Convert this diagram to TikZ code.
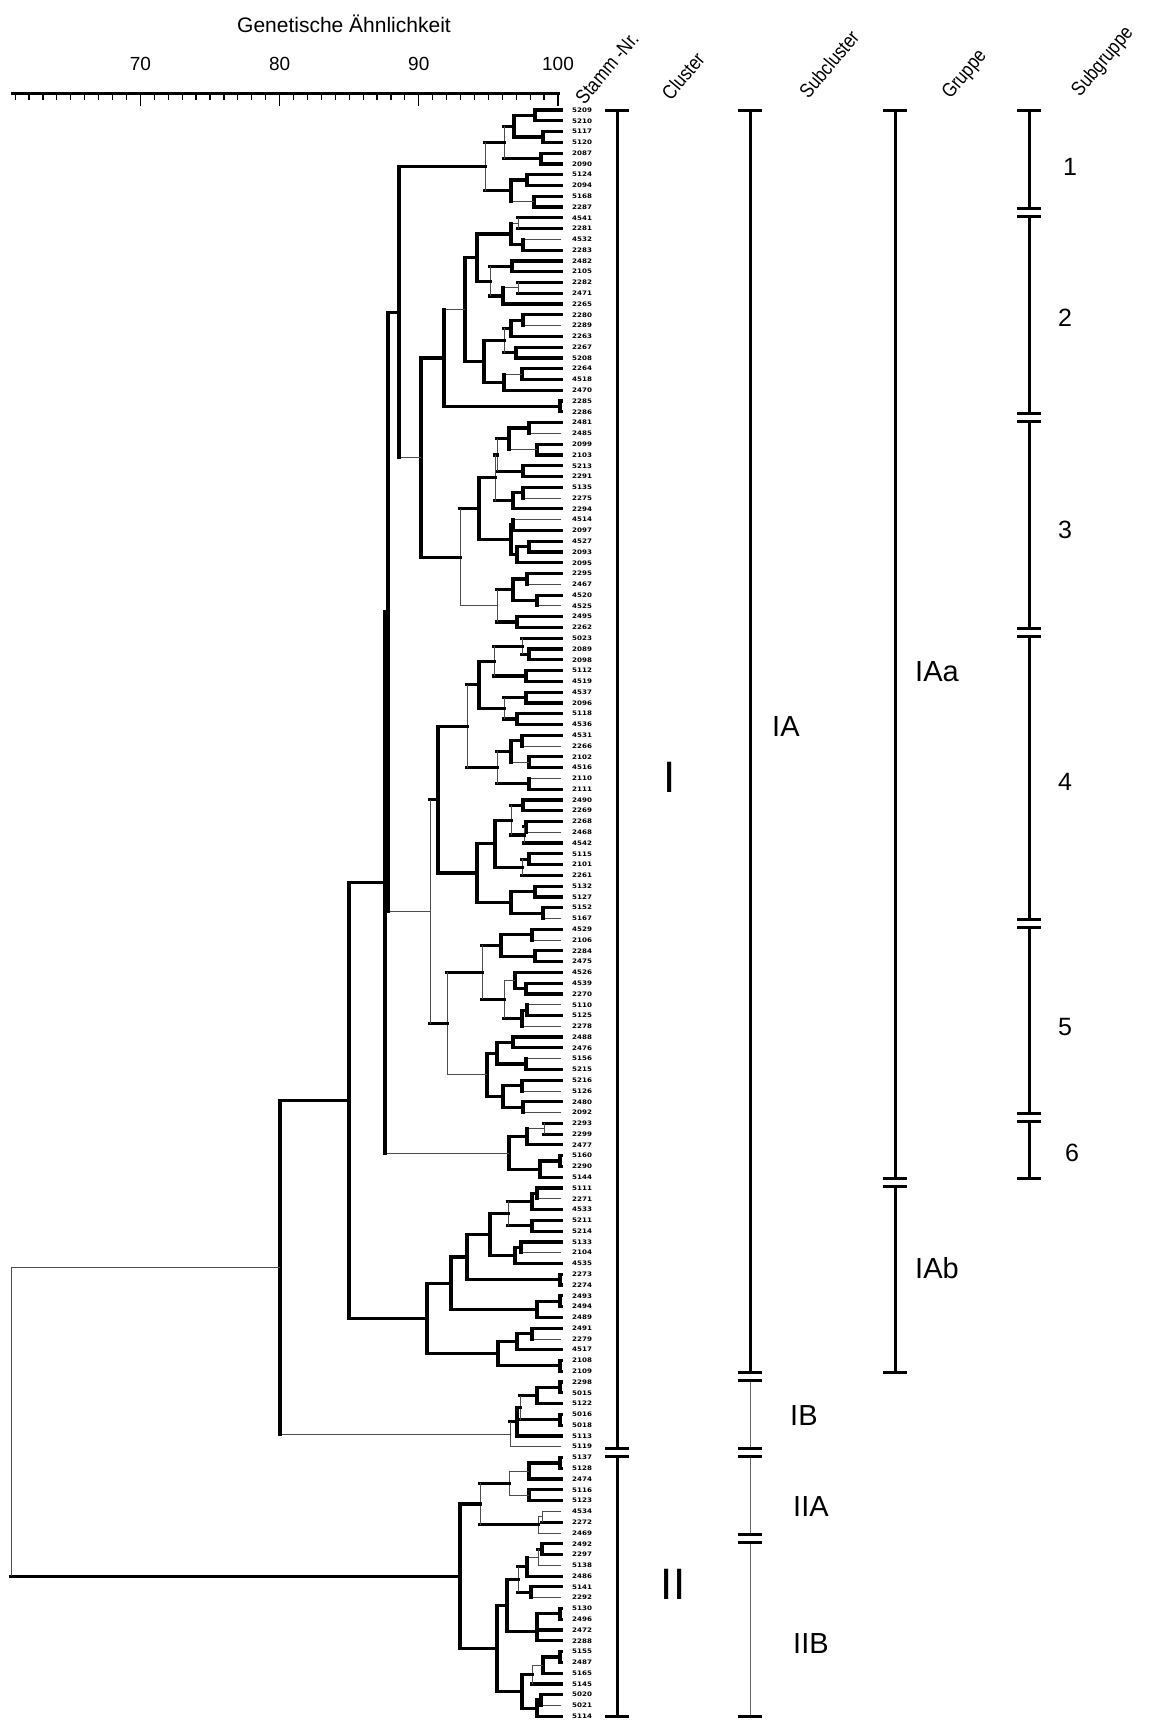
\documentclass[tikz,border=0pt]{standalone}
\usepackage{fontspec}
\setmainfont{Liberation Sans}
\newfontfamily\leaffont[FakeStretch=1.15]{DejaVu Sans}
\newfontfamily\headfont[FakeStretch=0.85]{Liberation Sans}
\usetikzlibrary{calc}

% one clade: name, x, vertical style, child 1, its style, child 2, its style
\newcommand{\clade}[7]{%
  \coordinate (jm) at ($(#4)!.5!(#6)$);
  \coordinate (jx) at (#2,0);
  \coordinate (#1) at (jx |- jm);
  \draw[#5] (#4) -- (#4 -| #1);
  \draw[#7] (#6) -- (#6 -| #1);
  \draw[#3] (#4 -| #1) -- (#6 -| #1);}

\begin{document}
\begin{tikzpicture}[
    x=1pt, y=-1pt,
    tk/.style={line width=3.2pt, line cap=rect},
    tn/.style={line width=0.8pt, black!70},
    leaf/.style={anchor=west, inner sep=0pt, font=\leaffont\bfseries\fontsize{6.2}{6.2}\selectfont},
    colk/.style={line width=3pt},
    coln/.style={line width=1pt, black!60},
    barcap/.style={line width=3pt},
    tick/.style={line width=1.2pt},
    head/.style={rotate=50, inner sep=0pt, font=\headfont\fontsize{20}{20}\selectfont},
    big/.style={inner sep=0pt, font=\fontsize{44}{44}\selectfont},
    mid/.style={anchor=west, inner sep=0pt, font=\fontsize{29}{29}\selectfont},
    num/.style={anchor=west, inner sep=0pt, font=\fontsize{25}{25}\selectfont}
]
\useasboundingbox (0,0) rectangle (1153,1722);

% scale
\node[font=\fontsize{21}{21}\selectfont] (title) at (344,24) {Genetische Ähnlichkeit};
\draw[line width=3pt] (11,93) -- (560,93);
\foreach \s in {61,...,100}
  \draw[tick] ({558-(100-\s)*13.92},93) -- ++(0,7);
\foreach \s in {70,80,90,100} {
  \draw[tick] ({558-(100-\s)*13.92},93) -- ++(0,13);
  \node[font=\fontsize{19}{19}\selectfont] (v\s) at ({558-(100-\s)*13.92},64) {\s};
}

% column heads
\node[head] (hstamm) at (607,68) {Stamm -Nr.};
\node[head] (hcluster) at (683,76) {Cluster};
\node[head] (hsub) at (829,64) {Subcluster};
\node[head] (hgruppe) at (965,75) {Gruppe};
\node[head] (hsubgr) at (1103,62) {Subgruppe};

% strains
\foreach \lab [count=\i] in {5209,5210,5117,5120,2087,2090,5124,2094,5168,2287,
    4541,2281,4532,2283,2482,2105,2282,2471,2265,2280,
    2289,2263,2267,5208,2264,4518,2470,2285,2286,2481,
    2485,2099,2103,5213,2291,5135,2275,2294,4514,2097,
    4527,2093,2095,2295,2467,4520,4525,2495,2262,5023,
    2089,2098,5112,4519,4537,2096,5118,4536,4531,2266,
    2102,4516,2110,2111,2490,2269,2268,2468,4542,5115,
    2101,2261,5132,5127,5152,5167,4529,2106,2284,2475,
    4526,4539,2270,5110,5125,2278,2488,2476,5156,5215,
    5216,5126,2480,2092,2293,2299,2477,5160,2290,5144,
    5111,2271,4533,5211,5214,5133,2104,4535,2273,2274,
    2493,2494,2489,2491,2279,4517,2108,2109,2298,5015,
    5122,5016,5018,5113,5119,5137,5128,2474,5116,5123,
    4534,2272,2469,2492,2297,5138,2486,5141,2292,5130,
    2496,2472,2288,5155,2487,5165,5145,5020,5021,5114} {
  \coordinate (s\lab) at (561,{110+(\i-1)*10.78});
  \node[leaf] (t\lab) at (572,{110+(\i-1)*10.78}) {\lab};
}

% subgroup 1
\clade{a1}{535}{tk}{s5209}{tk}{s5210}{tk}
\clade{a2}{543}{tk}{s5117}{tk}{s5120}{tk}
\clade{a3}{514}{tk}{a1}{tk}{a2}{tk}
\clade{a4}{541}{tk}{s2087}{tk}{s2090}{tk}
\clade{a5}{504}{tn}{a3}{tk}{a4}{tk}
\clade{a6}{527}{tk}{s5124}{tk}{s2094}{tk}
\clade{a7}{534}{tk}{s5168}{tk}{s2287}{tk}
\clade{a8}{511}{tk}{a6}{tk}{a7}{tn}
\clade{a9}{485}{tn}{a5}{tk}{a8}{tk}
% subgroup 2
\clade{b1}{518}{tn}{s4541}{tk}{s2281}{tk}
\clade{b2}{523}{tk}{s4532}{tn}{s2283}{tk}
\clade{b3}{511}{tk}{b1}{tn}{b2}{tk}
\clade{b4}{512}{tk}{s2482}{tk}{s2105}{tk}
\clade{b5}{518}{tn}{s2282}{tk}{s2471}{tk}
\clade{b6}{503}{tk}{b5}{tn}{s2265}{tk}
\clade{b7}{490}{tn}{b4}{tk}{b6}{tk}
\clade{b8}{477}{tk}{b3}{tk}{b7}{tk}
\clade{b9}{523}{tk}{s2280}{tk}{s2289}{tn}
\clade{b10}{511}{tk}{b9}{tk}{s2263}{tk}
\clade{b11}{516}{tk}{s2267}{tk}{s5208}{tk}
\clade{b12}{504}{tn}{b10}{tk}{b11}{tk}
\clade{b13}{522}{tk}{s2264}{tk}{s4518}{tk}
\clade{b14}{504}{tk}{b13}{tn}{s2470}{tk}
\clade{b15}{484}{tk}{b12}{tk}{b14}{tk}
\clade{b16}{465}{tk}{b8}{tk}{b15}{tk}
\clade{b17}{560}{tk}{s2285}{tk}{s2286}{tk}
\clade{b18}{444}{tk}{b16}{tn}{b17}{tk}
% subgroup 3
\clade{c1}{529}{tk}{s2481}{tk}{s2485}{tn}
\clade{c2}{537}{tk}{s2099}{tk}{s2103}{tk}
\clade{c3}{509}{tk}{c1}{tk}{c2}{tn}
\clade{c4}{523}{tk}{s5213}{tk}{s2291}{tk}
\clade{c5}{497}{tn}{c3}{tk}{c4}{tk}
\clade{c6}{523}{tk}{s5135}{tk}{s2275}{tn}
\clade{c7}{513}{tk}{c6}{tk}{s2294}{tk}
\clade{c8}{495}{tn}{c5}{tk}{c7}{tk}
\clade{c9}{513}{tk}{s4514}{tn}{s2097}{tk}
\clade{c10}{529}{tk}{s4527}{tk}{s2093}{tk}
\clade{c11}{517}{tk}{c10}{tk}{s2095}{tk}
\clade{c12}{511}{tk}{c9}{tk}{c11}{tk}
\clade{c13}{479}{tk}{c8}{tk}{c12}{tk}
\clade{c14}{527}{tk}{s2295}{tk}{s2467}{tn}
\clade{c15}{537}{tk}{s4520}{tk}{s4525}{tn}
\clade{c16}{513}{tk}{c14}{tk}{c15}{tk}
\clade{c17}{517}{tk}{s2495}{tk}{s2262}{tk}
\clade{c18}{497}{tn}{c16}{tk}{c17}{tk}
\clade{c19}{460}{tn}{c13}{tk}{c18}{tn}
\clade{c20}{421}{tk}{b18}{tk}{c19}{tk}
\clade{c21}{399}{tk}{a9}{tk}{c20}{tn}
% subgroups 4 and 5
\clade{d1}{529}{tk}{s2089}{tk}{s2098}{tk}
\clade{d2}{522}{tn}{s5023}{tk}{d1}{tk}
\clade{d3}{526}{tk}{s5112}{tk}{s4519}{tk}
\clade{d4}{494}{tn}{d2}{tk}{d3}{tk}
\clade{d5}{526}{tk}{s4537}{tk}{s2096}{tk}
\clade{d6}{517}{tk}{s5118}{tk}{s4536}{tk}
\clade{d7}{504}{tn}{d5}{tk}{d6}{tk}
\clade{d8}{479}{tk}{d4}{tk}{d7}{tk}
\clade{d9}{522}{tk}{s4531}{tk}{s2266}{tn}
\clade{d10}{529}{tk}{s2102}{tk}{s4516}{tk}
\clade{d11}{511}{tk}{d9}{tk}{d10}{tn}
\clade{d12}{529}{tk}{s2110}{tn}{s2111}{tk}
\clade{d13}{497}{tn}{d11}{tk}{d12}{tk}
\clade{d14}{467}{tn}{d8}{tk}{d13}{tk}
\clade{d15}{523}{tk}{s2490}{tk}{s2269}{tk}
\clade{d16}{526}{tk}{s2268}{tk}{s2468}{tn}
\clade{d17}{524}{tn}{d16}{tk}{s4542}{tk}
\clade{d18}{511}{tn}{d15}{tk}{d17}{tk}
\clade{d19}{529}{tk}{s5115}{tk}{s2101}{tk}
\clade{d20}{522}{tn}{d19}{tk}{s2261}{tk}
\clade{d21}{495}{tk}{d18}{tk}{d20}{tk}
\clade{d22}{535}{tk}{s5132}{tk}{s5127}{tk}
\clade{d23}{543}{tk}{s5152}{tk}{s5167}{tn}
\clade{d24}{511}{tk}{d22}{tk}{d23}{tk}
\clade{d25}{477}{tk}{d21}{tk}{d24}{tk}
\clade{d26}{438}{tk}{d14}{tk}{d25}{tk}
\clade{d27}{532}{tk}{s4529}{tk}{s2106}{tn}
\clade{d28}{535}{tk}{s2284}{tk}{s2475}{tk}
\clade{d29}{501}{tk}{d27}{tk}{d28}{tk}
\clade{d30}{526}{tk}{s4539}{tk}{s2270}{tk}
\clade{d31}{515}{tk}{s4526}{tk}{d30}{tk}
\clade{d32}{527}{tk}{s5110}{tn}{s5125}{tk}
\clade{d33}{522}{tk}{d32}{tk}{s2278}{tn}
\clade{d34}{504}{tn}{d31}{tn}{d33}{tk}
\clade{d35}{482}{tn}{d29}{tk}{d34}{tk}
\clade{d36}{513}{tk}{s2488}{tk}{s2476}{tk}
\clade{d37}{526}{tk}{s5156}{tn}{s5215}{tk}
\clade{d38}{497}{tk}{d36}{tk}{d37}{tk}
\clade{d39}{522}{tk}{s5216}{tk}{s5126}{tn}
\clade{d40}{523}{tk}{s2480}{tk}{s2092}{tn}
\clade{d41}{503}{tk}{d39}{tk}{d40}{tk}
\clade{d42}{487}{tk}{d38}{tk}{d41}{tk}
\clade{d43}{447}{tn}{d35}{tk}{d42}{tn}
\clade{d44}{430}{tn}{d26}{tk}{d43}{tk}
\clade{p25}{388}{tk}{c21}{tk}{d44}{tn}
% subgroup 6
\clade{e1}{544}{tn}{s2293}{tk}{s2299}{tk}
\clade{e2}{527}{tk}{e1}{tn}{s2477}{tk}
\clade{e3}{560}{tk}{s5160}{tk}{s2290}{tk}
\clade{e4}{540}{tk}{e3}{tk}{s5144}{tk}
\clade{e5}{509}{tk}{e2}{tk}{e4}{tk}
\clade{p15}{385}{tk}{p25}{tk}{e5}{tn}
% IAb
\clade{f1}{537}{tk}{s5111}{tk}{s2271}{tn}
\clade{f2}{532}{tk}{f1}{tk}{s4533}{tk}
\clade{f3}{532}{tk}{s5211}{tk}{s5214}{tk}
\clade{f4}{508}{tn}{f2}{tk}{f3}{tk}
\clade{f5}{521}{tk}{s5133}{tk}{s2104}{tn}
\clade{f6}{515}{tk}{f5}{tk}{s4535}{tk}
\clade{f7}{490}{tk}{f4}{tk}{f6}{tk}
\clade{f8}{560}{tk}{s2273}{tk}{s2274}{tk}
\clade{f9}{467}{tk}{f7}{tk}{f8}{tk}
\clade{f10}{560}{tk}{s2493}{tk}{s2494}{tk}
\clade{f11}{537}{tk}{f10}{tk}{s2489}{tk}
\clade{f12}{451}{tk}{f9}{tk}{f11}{tk}
\clade{f13}{532}{tk}{s2491}{tk}{s2279}{tn}
\clade{f14}{517}{tk}{f13}{tk}{s4517}{tk}
\clade{f15}{560}{tk}{s2108}{tk}{s2109}{tk}
\clade{f16}{498}{tk}{f14}{tk}{f15}{tk}
\clade{f17}{427}{tk}{f12}{tk}{f16}{tk}
\clade{ia}{349}{tk}{p15}{tk}{f17}{tk}
% IB
\clade{g1}{560}{tk}{s2298}{tk}{s5015}{tk}
\clade{g2}{537}{tk}{g1}{tk}{s5122}{tk}
\clade{g3}{560}{tk}{s5016}{tk}{s5018}{tk}
\clade{g4}{520}{tn}{g2}{tk}{g3}{tk}
\clade{g5}{517}{tk}{g4}{tk}{s5113}{tk}
\clade{g6}{510}{tn}{g5}{tk}{s5119}{tn}
\clade{ci}{280}{tk}{ia}{tk}{g6}{tn}
% IIA
\clade{h1}{560}{tk}{s5137}{tk}{s5128}{tk}
\clade{h2}{529}{tk}{h1}{tk}{s2474}{tk}
\clade{h3}{529}{tk}{s5116}{tk}{s5123}{tk}
\clade{h4}{509}{tn}{h2}{tn}{h3}{tn}
\clade{h5}{542}{tn}{s4534}{tn}{s2272}{tk}
\clade{h6}{538}{tn}{h5}{tn}{s2469}{tn}
\clade{h7}{480}{tn}{h4}{tk}{h6}{tk}
% IIB
\clade{i1}{542}{tk}{s2492}{tk}{s2297}{tk}
\clade{i2}{538}{tn}{i1}{tk}{s5138}{tn}
\clade{i3}{527}{tk}{i2}{tn}{s2486}{tk}
\clade{i4}{531}{tk}{s5141}{tk}{s2292}{tn}
\clade{i5}{518}{tn}{i3}{tk}{i4}{tk}
\clade{i6}{560}{tk}{s5130}{tk}{s2496}{tk}
\clade{i7}{537}{tk}{i6}{tk}{s2472}{tk}
\clade{i8}{537}{tk}{i7}{tk}{s2288}{tk}
\clade{i9}{507}{tk}{i5}{tk}{i8}{tk}
\clade{i10}{560}{tk}{s5155}{tk}{s2487}{tk}
\clade{i11}{543}{tk}{i10}{tk}{s5165}{tk}
\clade{i12}{532}{tn}{i11}{tn}{s5145}{tk}
\clade{i13}{541}{tk}{s5020}{tk}{s5021}{tn}
\clade{i14}{537}{tk}{i13}{tk}{s5114}{tk}
\clade{i15}{522}{tk}{i12}{tk}{i14}{tk}
\clade{i16}{497}{tk}{i9}{tk}{i15}{tk}
\clade{cii}{460}{tk}{h7}{tk}{i16}{tk}
% root
\clade{root}{11}{tn}{ci}{tn}{cii}{tk}

% cluster, subcluster, group and subgroup bars
\foreach \cx/\ya/\yb/\st in {617/110/1448.1/colk, 617/1456.1/1716.2/colk,
    750/110/1372.7/colk, 750/1380.7/1448.1/coln, 750/1456.1/1534.4/coln, 750/1542.4/1716.2/coln,
    895/110/1178.6/colk, 895/1186.6/1372.7/colk,
    1029/110/208.4/colk, 1029/216.4/413.2/colk, 1029/421.2/628.8/colk,
    1029/636.8/919.9/colk, 1029/927.9/1113.9/colk, 1029/1121.9/1178.6/colk} {
  \draw[\st] (\cx,\ya) -- (\cx,\yb);
  \draw[barcap] (\cx-12,\ya) -- (\cx+12,\ya);
  \draw[barcap] (\cx-12,\yb) -- (\cx+12,\yb);
}

\node[big] (lI) at (670,777) {I};
\node[big] (lII) at (673,1584) {II};
\node[mid] (lIA) at (772,727) {IA};
\node[mid] (lIB) at (790,1416) {IB};
\node[mid] (lIIA) at (793,1507) {IIA};
\node[mid] (lIIB) at (793,1644) {IIB};
\node[mid] (lIAa) at (915,672) {IAa};
\node[mid] (lIAb) at (915,1268) {IAb};
\node[num] (g1) at (1063,167) {1};
\node[num] (g2) at (1058,318) {2};
\node[num] (g3) at (1058,530) {3};
\node[num] (g4) at (1058,782) {4};
\node[num] (g5) at (1058,1027) {5};
\node[num] (g6) at (1065,1153) {6};
\end{tikzpicture}
\end{document}
